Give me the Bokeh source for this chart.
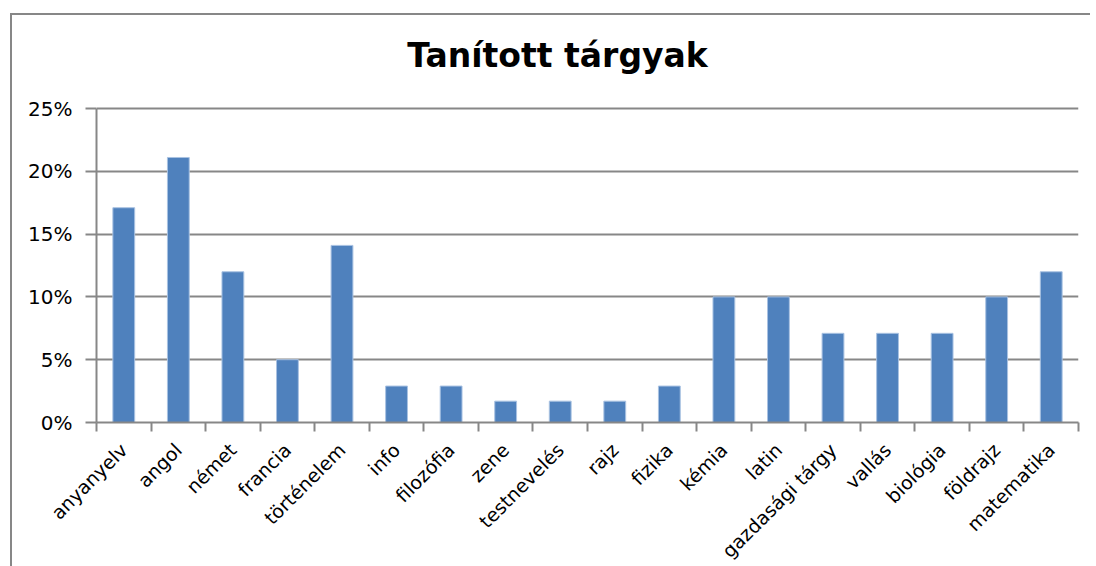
import math
from bokeh.plotting import figure
from bokeh.models import Range1d, FixedTicker, NumeralTickFormatter, Label
from bokeh.embed import file_html
from bokeh.resources import INLINE

title = "Tanított tárgyak"
categories = ["anyanyelv", "angol", "német", "francia", "történelem", "info",
              "filozófia", "zene", "testnevelés", "rajz", "fizika", "kémia",
              "latin", "gazdasági tárgy", "vallás", "biológia", "földrajz", "matematika"]
values = [0.171, 0.211, 0.12, 0.05, 0.141, 0.029, 0.029, 0.017, 0.017, 0.017,
          0.029, 0.10, 0.10, 0.071, 0.071, 0.071, 0.10, 0.12]
y_ticks = [0, 0.05, 0.10, 0.15, 0.20, 0.25]

n = len(categories)
xs = list(range(n))
bounds = [i - 0.5 for i in range(n + 1)]

GRAY = "#878787"
FONT = "DejaVu Sans"

# frame extends above the 25% line so that the title can sit inside it
Y_TOP = 0.25 * 402 / 314

p = figure(width=1078, height=540, output_backend="svg", toolbar_location=None,
           x_range=Range1d(-0.5, n - 0.5), y_range=Range1d(0, Y_TOP),
           min_border_left=84, min_border_right=12, min_border_top=5, min_border_bottom=133,
           frame_width=982, frame_height=402)
# chart-area frame: left and top edges
p.styles = {"border-left": "2px solid " + GRAY, "border-top": "2px solid " + GRAY,
            "margin-left": "10px", "margin-top": "13px",
            "box-sizing": "content-box", "height": "551px", "overflow": "hidden"}
p.outline_line_color = None
p.background_fill_color = "white"
p.border_fill_color = "white"

p.vbar(x=xs, top=values, width=0.4, fill_color="#4F81BD", line_color="#a9c2e2", line_width=1)

p.add_layout(Label(x=7.95, y=0.2922, text=title, text_align="center",
                   text_baseline="alphabetic", text_font=FONT, text_font_style="bold",
                   text_font_size="33px", text_color="black"))

# x axis
xa = p.xaxis[0]
xa.ticker = FixedTicker(ticks=xs, minor_ticks=bounds)
xa.major_label_overrides = {i: c for i, c in zip(xs, categories)}
xa.major_label_orientation = math.pi / 4
xa.major_tick_out = 0
xa.major_tick_in = 0
xa.minor_tick_out = 9
xa.minor_tick_in = 0
xa.minor_tick_line_color = GRAY
xa.minor_tick_line_width = 2
xa.axis_line_color = GRAY
xa.axis_line_width = 2
xa.major_label_text_font = FONT
xa.major_label_text_font_size = "19px"
xa.major_label_text_color = "black"
xa.major_label_standoff = 15

# y axis
ya = p.yaxis[0]
ya.ticker = FixedTicker(ticks=y_ticks)
ya.bounds = (0, 0.25)
ya.formatter = NumeralTickFormatter(format="0%")
ya.major_tick_out = 11
ya.major_tick_in = 0
ya.minor_tick_out = 0
ya.minor_tick_in = 0
ya.major_tick_line_color = GRAY
ya.major_tick_line_width = 2
ya.axis_line_color = GRAY
ya.axis_line_width = 2
ya.major_label_text_font = FONT
ya.major_label_text_font_size = "20px"
ya.major_label_text_color = "black"
ya.major_label_standoff = 13

p.xgrid.visible = False
p.ygrid.ticker = FixedTicker(ticks=y_ticks)
p.ygrid.grid_line_color = GRAY
p.ygrid.grid_line_width = 2

open("out.html", "w").write(file_html(p, INLINE))
